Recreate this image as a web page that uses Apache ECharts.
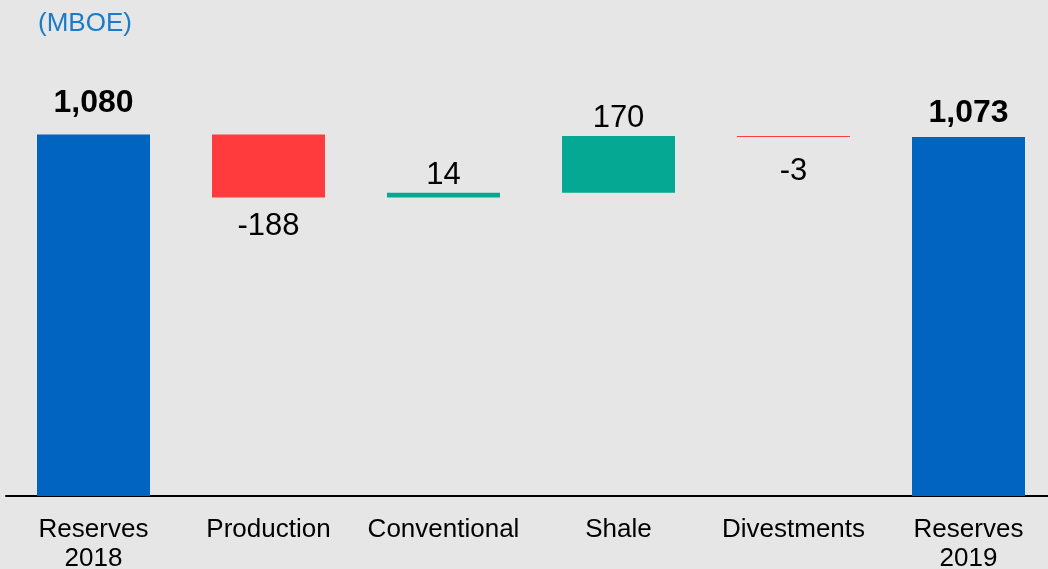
<!DOCTYPE html>
<html>
<head>
<meta charset="utf-8">
<style>
  html, body { margin: 0; padding: 0; background: #e6e6e6; }
  #chart { width: 1048px; height: 569px; }
</style>
<script src="https://cdn.jsdelivr.net/npm/echarts@6/dist/echarts.min.js"></script>
</head>
<body>
<div id="chart"></div>
<script>
// Reserves bridge, 2018 -> 2019 (MBOE)
const categories = ['Reserves\n2018', 'Production', 'Conventional', 'Shale', 'Divestments', 'Reserves\n2019'];
const totals = [1080, null, null, null, null, 1073];
const changes = [null, -188, 14, 170, -3, null];

// label gap from the bar edge, per column
const labelGap = [15, 13, 2, 2, 19, 8];

const FONT = '"Liberation Sans", Arial, Helvetica, sans-serif';
const BLUE = '#0064c0', RED = '#ff3b3d', TEAL = '#05a892';

// invisible base that lifts each change bar to the running total
const base = [], totalData = [], upData = [], downData = [];
let running = 0;
categories.forEach((c, i) => {
  if (totals[i] != null) {
    running = totals[i];
    base.push('-');
    totalData.push({ value: totals[i], label: { distance: labelGap[i] } });
    upData.push('-');
    downData.push('-');
  } else {
    const d = changes[i];
    if (d >= 0) {
      base.push(running);
      running += d;
      upData.push({ value: d, label: { distance: labelGap[i] } });
      downData.push('-');
    } else {
      running += d;
      base.push(running);
      downData.push({ value: -d, label: { distance: labelGap[i] } });
      upData.push('-');
    }
    totalData.push('-');
  }
});

const chart = echarts.init(document.getElementById('chart'));
const valueLabel = { show: true, color: '#000', fontFamily: FONT, fontSize: 31, lineHeight: 31 };

chart.setOption({
  backgroundColor: '#e6e6e6',
  animation: false,
  title: {
    text: '(MBOE)',
    left: 38, top: 11, padding: 0,
    textStyle: { color: '#1a7acb', fontFamily: FONT, fontSize: 26, fontWeight: 'normal' }
  },
  grid: { left: 6, width: 1050, top: 61, bottom: 73, outerBoundsMode: 'none', containLabel: false },
  xAxis: {
    type: 'category',
    data: categories,
    axisLine: { show: true, lineStyle: { color: '#000', width: 2 } },
    axisTick: { show: false },
    axisLabel: { color: '#000', fontFamily: FONT, fontSize: 26, lineHeight: 29, margin: 19, interval: 0 }
  },
  yAxis: { type: 'value', min: 0, max: 1300, show: false, splitLine: { show: false } },
  series: [
    { type: 'bar', stack: 'w', data: base, barWidth: 113,
      itemStyle: { color: 'transparent' }, silent: true },
    { type: 'bar', stack: 'w', data: totalData, barWidth: 113,
      itemStyle: { color: BLUE },
      label: Object.assign({}, valueLabel, { position: 'top', fontWeight: 'bold', fontSize: 32, lineHeight: 32,
        formatter: p => p.value.toLocaleString('en-US') }) },
    { type: 'bar', stack: 'w', data: upData, barWidth: 113,
      itemStyle: { color: TEAL },
      label: Object.assign({}, valueLabel, { position: 'top', formatter: p => String(p.value) }) },
    { type: 'bar', stack: 'w', data: downData, barWidth: 113,
      itemStyle: { color: RED },
      label: Object.assign({}, valueLabel, { position: 'bottom', formatter: p => '-' + p.value }) }
  ]
});
</script>
</body>
</html>
